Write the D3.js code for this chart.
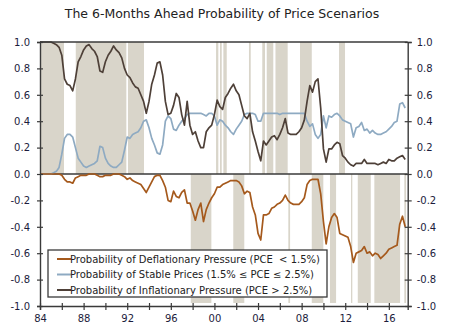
<!DOCTYPE html>
<html>
<head>
<meta charset="utf-8">
<script src="https://cdn.jsdelivr.net/npm/d3@7"></script>
<style>
  body { margin: 0; background: #fff; }
  text { font-family: "DejaVu Sans", Verdana, sans-serif; }
</style>
</head>
<body>
<div id="chart"></div>
<script>
// quarterly readings, one row per year starting 1984 (2017 has three quarters)
const firstYear = 1984;

const inflationPressure = [
  [1.00, 1.00, 1.00, 1.00], [1.00, 0.99, 0.98, 0.96], [0.90, 0.72, 0.68, 0.67], [0.63, 0.72, 0.85, 0.89],
  [0.94, 0.97, 0.98, 0.95], [0.93, 0.89, 0.78, 0.77], [0.85, 0.90, 0.93, 0.97], [0.94, 0.92, 0.88, 0.80],
  [0.75, 0.73, 0.69, 0.66], [0.65, 0.60, 0.55, 0.46], [0.55, 0.68, 0.75, 0.84], [0.85, 0.75, 0.55, 0.45],
  [0.46, 0.52, 0.61, 0.58], [0.45, 0.37, 0.55, 0.37], [0.30, 0.32, 0.25, 0.20], [0.20, 0.32, 0.35, 0.37],
  [0.45, 0.56, 0.51, 0.49], [0.58, 0.61, 0.65, 0.68], [0.63, 0.60, 0.52, 0.44], [0.42, 0.46, 0.32, 0.25],
  [0.17, 0.10, 0.25, 0.22], [0.25, 0.28, 0.29, 0.26], [0.30, 0.35, 0.42, 0.31], [0.30, 0.30, 0.30, 0.32],
  [0.35, 0.41, 0.55, 0.67], [0.62, 0.70, 0.72, 0.50], [0.19, 0.09, 0.19, 0.19], [0.22, 0.24, 0.23, 0.14],
  [0.12, 0.09, 0.07, 0.06], [0.08, 0.08, 0.08, 0.11], [0.08, 0.08, 0.08, 0.08], [0.07, 0.08, 0.09, 0.08],
  [0.11, 0.10, 0.10, 0.12], [0.13, 0.14, 0.11]
];

const stablePrices = [
  [0.00, 0.00, 0.00, 0.00], [0.00, 0.01, 0.02, 0.05], [0.15, 0.27, 0.30, 0.30], [0.28, 0.20, 0.12, 0.09],
  [0.06, 0.05, 0.06, 0.07], [0.08, 0.10, 0.21, 0.20], [0.12, 0.08, 0.06, 0.05], [0.05, 0.07, 0.09, 0.18],
  [0.28, 0.27, 0.30, 0.31], [0.32, 0.35, 0.40, 0.41], [0.35, 0.27, 0.22, 0.16], [0.15, 0.22, 0.40, 0.44],
  [0.42, 0.34, 0.33, 0.37], [0.40, 0.42, 0.45, 0.46], [0.46, 0.46, 0.46, 0.46], [0.45, 0.44, 0.46, 0.46],
  [0.44, 0.37, 0.41, 0.40], [0.37, 0.35, 0.32, 0.30], [0.34, 0.37, 0.40, 0.45], [0.46, 0.46, 0.46, 0.45],
  [0.40, 0.40, 0.46, 0.46], [0.46, 0.46, 0.46, 0.46], [0.45, 0.46, 0.46, 0.46], [0.46, 0.46, 0.46, 0.46],
  [0.46, 0.46, 0.40, 0.36], [0.38, 0.30, 0.27, 0.30], [0.44, 0.35, 0.44, 0.43], [0.45, 0.46, 0.44, 0.41],
  [0.40, 0.39, 0.38, 0.28], [0.35, 0.36, 0.39, 0.33], [0.34, 0.31, 0.33, 0.31], [0.30, 0.30, 0.31, 0.32],
  [0.34, 0.36, 0.39, 0.40], [0.53, 0.54, 0.50]
];

// deflation probability, drawn below zero
const deflationPressure = [
  [0.00, 0.00, 0.00, 0.00], [0.00, 0.00, 0.00, 0.00], [0.01, 0.04, 0.06, 0.06], [0.07, 0.03, 0.02, 0.01],
  [0.01, 0.01, 0.00, 0.00], [0.00, 0.01, 0.02, 0.02], [0.01, 0.01, 0.01, 0.00], [0.00, 0.00, 0.01, 0.02],
  [0.04, 0.03, 0.05, 0.06], [0.07, 0.08, 0.11, 0.14], [0.10, 0.06, 0.02, 0.01], [0.01, 0.05, 0.10, 0.20],
  [0.21, 0.13, 0.17, 0.18], [0.14, 0.12, 0.22, 0.22], [0.28, 0.35, 0.27, 0.22], [0.36, 0.27, 0.22, 0.18],
  [0.15, 0.10, 0.10, 0.08], [0.07, 0.06, 0.05, 0.05], [0.05, 0.06, 0.09, 0.15], [0.13, 0.14, 0.25, 0.31],
  [0.45, 0.50, 0.31, 0.31], [0.30, 0.26, 0.25, 0.23], [0.22, 0.20, 0.16, 0.20], [0.22, 0.23, 0.23, 0.23],
  [0.21, 0.18, 0.08, 0.05], [0.04, 0.04, 0.04, 0.15], [0.36, 0.53, 0.40, 0.33], [0.30, 0.33, 0.45, 0.46],
  [0.47, 0.48, 0.55, 0.67], [0.60, 0.59, 0.58, 0.55], [0.60, 0.59, 0.62, 0.60], [0.61, 0.64, 0.62, 0.60],
  [0.57, 0.56, 0.55, 0.54], [0.38, 0.32, 0.40]
];

// shaded periods (decimal years)
const inflationBands = [
  [1984.0, 1986.2], [1987.28, 1991.92], [1992.07, 1993.54], [2000.15, 2000.36], [2000.51, 2000.67],
  [2000.82, 2001.13], [2003.17, 2003.33], [2004.39, 2004.64], [2004.8, 2005.4], [2005.6, 2006.72],
  [2007.85, 2008.93], [2011.43, 2011.98]
];
const deflationBands = [
  [1997.83, 1999.72], [2001.73, 2002.74], [2006.78, 2006.94], [2008.93, 2009.99], [2010.6, 2011.16],
  [2012.53, 2012.65], [2013.15, 2014.34], [2014.67, 2017.03], [2017.42, 2017.58]
];

const legendLabels = [
  "Probability of Deflationary Pressure (PCE  < 1.5%)",
  "Probability of Stable Prices (1.5% \u2264 PCE \u2264 2.5%)",
  "Probability of Inflationary Pressure (PCE > 2.5%)"
];
const yTicks = [-1, -0.8, -0.6, -0.4, -0.2, 0, 0.2, 0.4, 0.6, 0.8, 1];
const xTicks = d3.range(1984, 2018, 2);

const colors = { defl: "#a5591c", stable: "#8eaac2", infl: "#4e4038", band: "#d9d5ca" };

function toSeries(rows, sign) {
  const out = [];
  rows.forEach((row, i) => {
    row.forEach((v, q) => out.push({ t: firstYear + i + q / 4, v: sign * v }));
  });
  return out;
}

const width = 450, height = 332;
const svg = d3.select("#chart").append("svg")
  .attr("width", width).attr("height", height);

const x = d3.scaleLinear().domain([1984, 2017.73]).range([40, 407.7]);
const y = d3.scaleLinear().domain([-1, 1]).range([306, 42]);

// title
svg.append("text")
  .attr("x", 222).attr("y", 18)
  .attr("text-anchor", "middle")
  .attr("font-size", 12.5)
  .attr("fill", "#222")
  .text("The 6-Months Ahead Probability of Price Scenarios");

// bands
svg.append("g").selectAll("rect")
  .data(inflationBands).enter().append("rect")
  .attr("x", d => x(d[0])).attr("width", d => x(d[1]) - x(d[0]))
  .attr("y", y(1)).attr("height", y(0) - y(1))
  .attr("fill", colors.band);

svg.append("g").selectAll("rect")
  .data(deflationBands).enter().append("rect")
  .attr("x", d => x(d[0])).attr("width", d => x(d[1]) - x(d[0]))
  .attr("y", y(0)).attr("height", y(-0.977) - y(0))
  .attr("fill", colors.band);

// lines
const line = d3.line().x(d => x(d.t)).y(d => y(d.v));
const series = [
  { data: toSeries(stablePrices, 1), color: colors.stable },
  { data: toSeries(inflationPressure, 1), color: colors.infl },
  { data: toSeries(deflationPressure, -1), color: colors.defl }
];

// zero line under the deflation series
svg.append("line")
  .attr("x1", x(1984)).attr("x2", x(2017.73))
  .attr("y1", y(0)).attr("y2", y(0))
  .attr("stroke", "#3a3a3a").attr("stroke-width", 1.6);

svg.append("g").selectAll("path")
  .data(series).enter().append("path")
  .attr("d", d => line(d.data))
  .attr("fill", "none")
  .attr("stroke", d => d.color)
  .attr("stroke-width", 1.7)
  .attr("stroke-linejoin", "round");

// top border
svg.append("line")
  .attr("x1", x(1984)).attr("x2", x(2017.73))
  .attr("y1", y(1)).attr("y2", y(1))
  .attr("stroke", "#3a3a3a").attr("stroke-width", 1.4);

const fmt = d => (Math.abs(d) < 1e-9 ? 0 : d).toFixed(1);

function styleAxis(g) {
  g.select(".domain").attr("stroke", "#3a3a3a").attr("stroke-width", 1.4);
  g.selectAll(".tick line").attr("stroke", "#3a3a3a").attr("stroke-width", 1.2);
  g.selectAll(".tick text").attr("fill", "#1c1c3c").attr("font-size", 10)
    .attr("font-family", "DejaVu Sans, Verdana, sans-serif");
}

const leftAxis = svg.append("g")
  .attr("transform", `translate(${x(1984)},0)`)
  .call(d3.axisLeft(y).tickValues(yTicks).tickFormat(fmt).tickSizeOuter(0).tickSize(3).tickPadding(7));
leftAxis.selectAll(".tick line").attr("x2", 3).attr("x1", -3);
styleAxis(leftAxis);

const rightAxis = svg.append("g")
  .attr("transform", `translate(${x(2017.73)},0)`)
  .call(d3.axisRight(y).tickValues(yTicks).tickFormat(fmt).tickSizeOuter(0).tickSize(4).tickPadding(5));
rightAxis.selectAll(".tick line").attr("x1", -3).attr("x2", 4);
styleAxis(rightAxis);

const bottomAxis = svg.append("g")
  .attr("transform", `translate(0,${y(-1)})`)
  .call(d3.axisBottom(x).tickValues(xTicks)
    .tickFormat(d => d % 4 === 0 ? String(d).slice(2) : "")
    .tickSizeOuter(0).tickSize(4).tickPadding(5));
bottomAxis.selectAll(".tick line").attr("y1", -3).attr("y2", 4);
styleAxis(bottomAxis);

// legend
const legend = svg.append("g");
legend.append("rect")
  .attr("x", 48).attr("y", 250).attr("width", 279).attr("height", 47)
  .attr("fill", "#fff").attr("stroke", "#3a3a3a").attr("stroke-width", 1.3);

const legendColors = [colors.defl, colors.stable, colors.infl];
const items = legend.selectAll(".item")
  .data(legendLabels).enter().append("g")
  .attr("class", "item")
  .attr("transform", (d, i) => `translate(57,${259 + i * 15.5})`);

items.append("line")
  .attr("x1", 0).attr("x2", 14)
  .attr("stroke", (d, i) => legendColors[i]).attr("stroke-width", 2);

items.append("text")
  .attr("x", 13).attr("y", 0).attr("dy", "0.35em")
  .attr("font-size", 10).attr("fill", "#222")
  .style("white-space", "pre")
  .text(d => d);
</script>
</body>
</html>
